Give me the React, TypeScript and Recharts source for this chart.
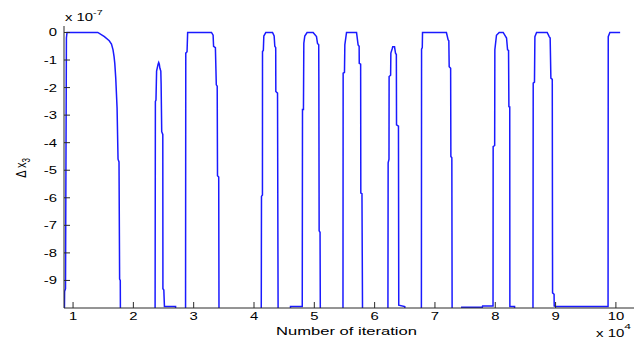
import React from "react";
import { LineChart, Line, XAxis, YAxis } from "recharts";

// iteration (x 10^4) and delta x3 (x 10^-7); -10.5 = below the visible range
const iterations = [
  0.855, 0.86, 0.875, 0.89, 0.9,
  1.41, 1.52, 1.6, 1.637, 1.663, 1.68, 1.692, 1.708, 1.73, 1.746, 1.762, 1.772, 1.783, 1.786,
  2.36, 2.365, 2.375, 2.385, 2.41, 2.42, 2.43, 2.44, 2.455, 2.46, 2.47, 2.488, 2.49, 2.505, 2.515, 2.7, 2.705,
  2.865, 2.869, 2.89, 2.9, 3.295, 3.322, 3.33, 3.36, 3.375, 3.39, 3.395, 3.415, 3.42,
  4.12, 4.124, 4.14, 4.141, 4.155, 4.163, 4.196, 4.307, 4.334, 4.345, 4.36, 4.362, 4.39, 4.4,
  4.6, 4.605, 4.8, 4.804, 4.82, 4.826, 4.842, 4.88, 4.98, 5.036, 5.053, 5.073, 5.075, 5.08, 5.095, 5.1,
  5.475, 5.478, 5.5, 5.506, 5.534, 5.7, 5.726, 5.743, 5.745, 5.768, 5.771, 5.79, 5.8,
  6.22, 6.224, 6.238, 6.24, 6.265, 6.269, 6.29, 6.3, 6.33, 6.346, 6.36, 6.363, 6.395, 6.4, 6.5, 6.505,
  6.775, 6.778, 6.79, 6.794, 7.19, 7.219, 7.23, 7.236, 7.26, 7.264, 7.28, 7.285,
  7.44, 7.445, 7.785, 7.79, 7.963, 7.965, 7.99, 7.993, 8.02, 8.065, 8.131, 8.187, 8.204, 8.22, 8.226, 8.24, 8.242, 8.32, 8.325,
  8.625, 8.629, 8.65, 8.657, 8.685, 8.861, 8.894, 8.91, 8.922, 8.945, 8.95, 8.975, 8.977, 9.005, 9.87,
  9.873, 9.9, 10.07,
];

const deltaX3 = [
  -10.5, -9.4, -9.3, -0.2, 0,
  0, -0.15, -0.3, -0.42, -0.63, -0.88, -1.12, -1.66, -2.75, -4.6, -4.7, -8.95, -9.0, -10.5,
  -10.5, -2.5, -2.45, -1.4, -1.15, -1.09, -1.15, -1.3, -1.4, -1.85, -3.6, -3.7, -9.3, -9.35, -9.95, -9.95, -10.5,
  -10.5, -0.75, -0.7, 0, 0, -0.1, -0.5, -0.55, -1.9, -1.95, -5.2, -5.25, -10.5,
  -10.5, -5.95, -5.9, -0.69, -0.65, -0.13, 0, 0, -0.13, -0.5, -0.55, -2.14, -2.2, -10.5,
  -10.5, -9.95, -9.95, -2.8, -2.8, -0.39, -0.13, 0, 0, -0.15, -0.4, -0.45, -1.54, -7.2, -7.25, -10.5,
  -10.5, -1.48, -1.45, -0.45, 0, 0, -0.45, -0.5, -1.12, -1.15, -5.83, -5.85, -10.5,
  -10.5, -4.73, -4.6, -1.6, -1.55, -0.75, -0.6, -0.52, -0.52, -0.75, -0.8, -3.35, -3.4, -9.9, -9.95, -10.5,
  -10.5, -0.61, -0.55, 0, 0, -0.27, -0.3, -1.24, -1.3, -4.5, -4.55, -10.5,
  -10.5, -9.97, -9.97, -9.93, -9.93, -4.14, -4.1, -0.63, -0.1, 0, 0, -0.2, -0.63, -0.65, -2.69, -2.7, -9.95, -9.95, -10.5,
  -10.5, -1.84, -1.8, -0.15, 0, 0, -0.15, -0.2, -1.66, -1.7, -9.45, -9.5, -9.93, -9.95, -9.95,
  -0.15, 0, 0,
];

const xTicks = [1, 2, 3, 4, 5, 6, 7, 8, 9, 10];
const yTicks = [-9, -8, -7, -6, -5, -4, -3, -2, -1, 0];

const data = iterations.map((it, i) => ({ it, dx: deltaX3[i] }));

const FONT = '"Liberation Sans", Arial, Helvetica, sans-serif';
const AXIS = "#2a2a2a";
const SX = 1.35; // reference is stretched horizontally

const BottomTick = (props: any) => {
  const { x, y, payload } = props;
  return (
    <g>
      <line x1={x} x2={x} y1={y} y2={y - 6} stroke={AXIS} />
      <text
        transform={`translate(${x},${y + 12}) scale(${SX},1)`}
        textAnchor="middle"
        fontSize={11}
        fontFamily={FONT}
        fill="#000"
      >
        {payload.value}
      </text>
    </g>
  );
};

const LeftTick = (props: any) => {
  const { x, y, payload } = props;
  return (
    <g>
      <line x1={x} x2={x + 6} y1={y} y2={y} stroke={AXIS} />
      <text
        transform={`translate(${x - 7},${y + 4}) scale(${SX},1)`}
        textAnchor="end"
        fontSize={11}
        fontFamily={FONT}
        fill="#000"
      >
        {payload.value}
      </text>
    </g>
  );
};

const TopTick = (props: any) => {
  const { x, y } = props;
  return <line x1={x} x2={x} y1={y} y2={y + 6} stroke={AXIS} />;
};

const RightTick = (props: any) => {
  const { x, y } = props;
  return <line x1={x} x2={x - 7} y1={y} y2={y} stroke={AXIS} />;
};

export default function App() {
  return (
    <div style={{ position: "absolute", left: 0, top: 0, width: 634, height: 343, overflow: "hidden", background: "#fff" }}>
      <LineChart width={634} height={343} data={data} margin={{ top: 26, right: 0, bottom: 0, left: 0 }}>
        <XAxis
          dataKey="it"
          type="number"
          domain={[0.85, 10.3]}
          allowDataOverflow
          ticks={xTicks}
          height={35}
          tickSize={0}
          tickMargin={0}
          tickLine={false}
          axisLine={{ stroke: AXIS }}
          tick={BottomTick}
          interval={0}
        />
        <XAxis
          xAxisId="top"
          orientation="top"
          dataKey="it"
          type="number"
          domain={[0.85, 10.3]}
          allowDataOverflow
          ticks={xTicks}
          height={0}
          tickSize={0}
          tickMargin={0}
          tickLine={false}
          axisLine={{ stroke: AXIS }}
          tick={TopTick}
          interval={0}
        />
        <YAxis
          type="number"
          domain={[-10, 0.235]}
          allowDataOverflow
          ticks={yTicks}
          width={64}
          tickSize={0}
          tickMargin={0}
          tickLine={false}
          axisLine={{ stroke: AXIS }}
          tick={LeftTick}
          interval={0}
        />
        <YAxis
          yAxisId="right"
          orientation="right"
          type="number"
          domain={[-10, 0.235]}
          allowDataOverflow
          ticks={yTicks}
          width={0}
          tickSize={0}
          tickMargin={0}
          tickLine={false}
          axisLine={false}
          tick={RightTick}
          interval={0}
        />
        <Line
          dataKey="dx"
          type="linear"
          stroke="#1a1aff"
          strokeWidth={1.5}
          dot={false}
          activeDot={false}
          isAnimationActive={false}
        />
      </LineChart>
      <svg width={634} height={343} style={{ position: "absolute", left: 0, top: 0, pointerEvents: "none" }}>
        <text transform={`translate(65,21) scale(${SX},1)`} fontSize={11} fontFamily={FONT} fill="#000">
          x 10<tspan fontSize={8} dy={-6}>-7</tspan>
        </text>
        <text transform={`translate(596,337) scale(1.5,1)`} fontSize={10} fontFamily={FONT} fill="#000">
          x 10<tspan fontSize={8} dy={-8}>4</tspan>
        </text>
        <text x={276} y={335} fontSize={11.5} fontFamily={FONT} fill="#000" textLength={141} lengthAdjust="spacingAndGlyphs">
          Number of iteration
        </text>
        <text transform={`translate(26,168) rotate(-90) scale(1,${SX})`} textAnchor="middle" fontSize={11} fontFamily={FONT} fill="#000">
          Δ x<tspan fontSize={8} dy={3}>3</tspan>
        </text>
      </svg>
    </div>
  );
}
